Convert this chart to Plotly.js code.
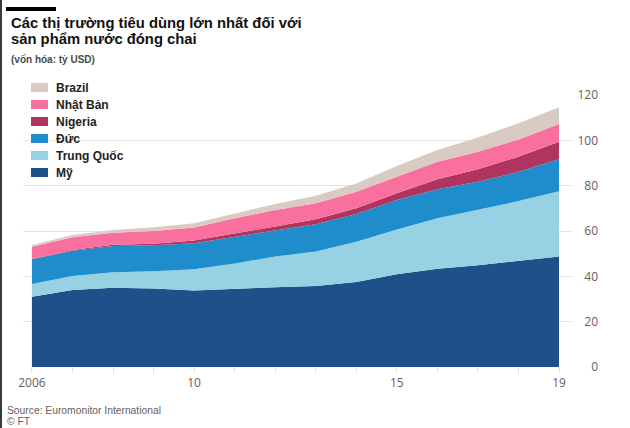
<!DOCTYPE html>
<html>
<head>
<meta charset="utf-8">
<script src="https://cdn.plot.ly/plotly-3.0.1.min.js"></script>
<style>html,body{margin:0;padding:0;background:#fff;}#chart{width:630px;height:428px;}</style>
</head>
<body>
<div id="chart"></div>
<script>
// ---- data ----
const years = [2006, 2007, 2008, 2009, 2010, 2011, 2012, 2013, 2014, 2015, 2016, 2017, 2018, 2019];
const my        = [31.0, 34.0, 35.0, 34.6, 33.7, 34.6, 35.2, 35.7, 37.5, 40.9, 43.4, 44.9, 46.9, 48.7];
const trungQuoc = [5.6, 6.1, 6.8, 7.6, 9.4, 11.1, 13.5, 15.3, 17.8, 19.8, 22.2, 24.4, 26.3, 28.8];
const duc       = [10.9, 11.2, 11.6, 11.5, 11.5, 11.8, 11.4, 12.0, 12.2, 13.0, 12.8, 12.4, 12.9, 14.1];
const nigeria   = [0.1, 0.3, 0.5, 0.7, 1.2, 1.3, 1.9, 2.2, 2.5, 2.9, 4.4, 5.5, 6.7, 7.8];
const nhatBan   = [5.5, 5.6, 5.3, 5.6, 5.7, 6.8, 7.3, 7.0, 7.3, 7.3, 7.8, 7.8, 7.6, 7.8];
const brazil    = [0.7, 1.0, 1.2, 1.6, 1.9, 2.2, 2.6, 3.4, 3.7, 4.8, 5.1, 6.3, 7.1, 7.4];
const seriesNames = ["Mỹ", "Trung Quốc", "Đức", "Nigeria", "Nhật Bản", "Brazil"];
const seriesValues = [my, trungQuoc, duc, nigeria, nhatBan, brazil];
const xLabelYears = [2006, 2010, 2015, 2019];
const xLabelTexts = ["2006", "10", "15", "19"];
const yTicks = [0, 20, 40, 60, 80, 100, 120];
const titleLines = ["Các thị trường tiêu dùng lớn nhất đối với", "sản phẩm nước đóng chai"];
const subtitle = "(vốn hóa: tỷ USD)";
const sourceText = "Source: Euromonitor International";
const creditText = "© FT";

// ---- style ----
const colors = ["#1e5189", "#96d1e4", "#1f8ccb", "#b03460", "#f9709f", "#dacbc2"];
const W = 630, H = 428;
const M = {l: 23, r: 32, t: 95, b: 61};
const pw = W - M.l - M.r, ph = H - M.t - M.b;
const px = x => (x - M.l) / pw;
const py = y => (H - M.b - y) / ph;
const gridCol = "#ebe1d9";
const tickCol = "#66605c";

const traces = seriesNames.map((n, i) => ({
  type: "scatter", mode: "lines", x: years, y: seriesValues[i], name: n,
  stackgroup: "one", line: {width: 0, color: colors[i]}, fillcolor: colors[i],
  showlegend: false, hoverinfo: "x+y+name"
}));

const tickText = years.map(y => { const k = xLabelYears.indexOf(y); return k >= 0 ? xLabelTexts[k] : ""; });

const shapes = [
  {type: "line", xref: "paper", yref: "paper", x0: px(1), x1: px(1), y0: py(0), y1: py(H), line: {color: "#3a3a3a", width: 2}},
  {type: "rect", xref: "paper", yref: "paper", x0: px(6), x1: px(56), y0: py(7), y1: py(11), fillcolor: "#000", line: {width: 0}},
  {type: "rect", xref: "paper", yref: "paper", layer: "between", x0: px(23), x1: px(119), y0: py(78), y1: py(182), fillcolor: "#fff", line: {width: 0}}
];
const annotations = [];
const fTitle = {family: "Liberation Sans, Arial, sans-serif", size: 14.8, color: "#111", weight: 700};
titleLines.forEach((t, i) => annotations.push({text: t, xref: "paper", yref: "paper", x: px(9), y: py(23 + i * 16), xanchor: "left", yanchor: "middle", showarrow: false, font: fTitle}));
annotations.push({text: subtitle, xref: "paper", yref: "paper", x: px(9), y: py(59), xanchor: "left", yanchor: "middle", showarrow: false, font: {family: "Liberation Sans, Arial, sans-serif", size: 10, color: "#4a4a4a", weight: 700}});
const fSrc = {family: "Liberation Sans Narrow, Arial Narrow, Liberation Sans, sans-serif", size: 10.3, color: tickCol};
annotations.push({text: sourceText, xref: "paper", yref: "paper", x: px(5), y: py(410), xanchor: "left", yanchor: "middle", showarrow: false, font: fSrc});
annotations.push({text: creditText, xref: "paper", yref: "paper", x: px(5), y: py(421), xanchor: "left", yanchor: "middle", showarrow: false, font: fSrc});
// legend (top entry = top of stack)
for (let k = 0; k < seriesNames.length; k++) {
  const i = seriesNames.length - 1 - k;
  const cy = 87.5 + k * 17;
  shapes.push({type: "rect", xref: "paper", yref: "paper", x0: px(31), x1: px(48), y0: py(cy - 4.5), y1: py(cy + 4.5), fillcolor: colors[i], line: {width: 0}});
  annotations.push({text: seriesNames[i], xref: "paper", yref: "paper", x: px(54), y: py(cy), xanchor: "left", yanchor: "middle", showarrow: false, font: {family: "Liberation Sans, Arial, sans-serif", size: 12, color: "#222", weight: 700}});
}

const layout = {
  width: W, height: H, margin: M, paper_bgcolor: "#fff", plot_bgcolor: "rgba(0,0,0,0)",
  showlegend: false,
  xaxis: {domain: [0, 549 / pw], range: [2005.78, 2019.32], tickvals: years, ticktext: tickText,
    ticks: "outside", ticklen: 5, tickcolor: gridCol, tickwidth: 1, showgrid: false, zeroline: false, showline: false,
    tickfont: {family: "Open Sans, sans-serif", size: 12, color: tickCol}, fixedrange: true},
  yaxis: {range: [0, 120], tickvals: yTicks, anchor: "free", position: 1, side: "left",
    showgrid: true, gridcolor: gridCol, gridwidth: 1, zeroline: false, showline: false, ticks: "",
    tickfont: {family: "Open Sans, sans-serif", size: 12, color: tickCol}, fixedrange: true},
  shapes: shapes, annotations: annotations
};
Plotly.newPlot("chart", traces, layout, {displayModeBar: false, staticPlot: true});
</script>
</body>
</html>
